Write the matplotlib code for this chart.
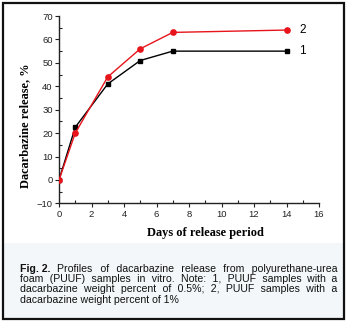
import matplotlib
matplotlib.use("Agg")
import matplotlib.pyplot as plt
from matplotlib.patches import Rectangle
from matplotlib.ticker import MultipleLocator

days = [0, 1, 3, 5, 7, 14]
release_1 = [0, 22.5, 41, 51, 55, 55]
release_2 = [0, 20, 44, 56, 63, 64]
series_labels = ["1", "2"]
x_label = "Days of release period"
y_label = "Dacarbazine release, %"
caption_bold = "Fig. 2."
caption_lines = [
    "Profiles of dacarbazine release from polyurethane-urea",
    "foam (PUUF) samples in vitro. Note: 1, PUUF samples with a",
    "dacarbazine weight percent of 0.5%; 2, PUUF samples with a",
    "dacarbazine weight percent of 1%",
]

W, H = 350, 324
fig = plt.figure(figsize=(W / 100, H / 100), dpi=100)
fig.patch.set_facecolor("white")

# caption background and outer frame
fig.patches.append(Rectangle((3 / W, 1 - 318 / H), 340 / W, 75 / H,
                             transform=fig.transFigure, facecolor="#f3f7f9", edgecolor="none", zorder=0))
fig.patches.append(Rectangle((2.5 / W, 1 - 319 / H), 341 / W, 316 / H,
                             transform=fig.transFigure, facecolor="none", edgecolor="#111111",
                             linewidth=1.6, zorder=5))

ax = fig.add_axes([59 / W, 1 - 203.4 / H, 260 / W, (203.4 - 16) / H])
ax.patch.set_alpha(0)
ax.plot(days, release_1, color="black", marker="s", markersize=3.5, linewidth=1.0, zorder=3)
ax.plot(days, release_2, color="#e8141c", marker="o", markersize=3.8, linewidth=1.0, zorder=4)
ax.set_xlim(0, 16)
ax.set_ylim(-10, 70)
ax.xaxis.set_major_locator(MultipleLocator(2))
ax.xaxis.set_minor_locator(MultipleLocator(1))
ax.yaxis.set_major_locator(MultipleLocator(10))
ax.yaxis.set_minor_locator(MultipleLocator(5))
for s in ["top", "right"]:
    ax.spines[s].set_visible(False)
for s in ["left", "bottom"]:
    ax.spines[s].set_linewidth(1.0)
    ax.spines[s].set_color("#222222")
ax.tick_params(which="major", direction="out", length=3, width=0.8, labelsize=6.8,
               colors="#222222", pad=1.5)
ax.tick_params(which="minor", direction="in", length=2, width=0.8, colors="#222222")
for lab in ax.get_xticklabels() + ax.get_yticklabels():
    lab.set_fontfamily("Liberation Sans")

ax.text(days[-1] + 0.8, release_2[-1], series_labels[1], fontsize=8.5, family="Liberation Sans",
        va="center", ha="left")
ax.text(days[-1] + 0.8, release_1[-1], series_labels[0], fontsize=8.5, family="Liberation Sans",
        va="center", ha="left")

fig.text(25 / W, 1 - 126 / H, y_label, rotation=90, ha="center", va="center",
         fontsize=8.9, fontweight="bold", family="Liberation Serif")
fig.text(205 / W, 1 - 233 / H, x_label, ha="center", va="center",
         fontsize=8.9, fontweight="bold", family="Liberation Serif")

# justified caption: one text per line, extra spacing filled with hair spaces
fig.canvas.draw()
renderer = fig.canvas.get_renderer()
left_px, right_px = 20, 337
line_base = [271.5, 282, 292.5, 303]
fs = 7.6
fam = ["Liberation Sans", "DejaVu Sans"]
HAIR = "\u200a"


def width_of(t, bold=False):
    tt = fig.text(0, 0, t, fontsize=fs, family=fam, fontweight="bold" if bold else "normal")
    w = tt.get_window_extent(renderer).width
    tt.remove()
    return w


hair_w = max(width_of("a" + HAIR * 10 + "b") - width_of("ab"), 1.0) / 10.0

for i, line in enumerate(caption_lines):
    x0 = left_px
    y = 1 - line_base[i] / H
    if i == 0:
        fig.text(x0 / W, y, caption_bold, fontsize=fs, family=fam, fontweight="bold",
                 ha="left", va="baseline", color="#111111")
        x0 += width_of(caption_bold, True) + 2.2 * (width_of("a b") - width_of("ab"))
    words = line.split(" ")
    last = i == len(caption_lines) - 1
    text = line
    if not last:
        extra = (right_px - x0) - width_of(line)
        n = max(int(round(extra / hair_w)), 0)
        gaps = len(words) - 1
        parts = [words[0]]
        for g in range(gaps):
            k = n // gaps + (1 if g < n % gaps else 0)
            parts.append(" " + HAIR * k + words[g + 1])
        text = "".join(parts)
    fig.text(x0 / W, y, text, fontsize=fs, family=fam, ha="left", va="baseline", color="#111111")

fig.savefig("out.png", dpi=100)
